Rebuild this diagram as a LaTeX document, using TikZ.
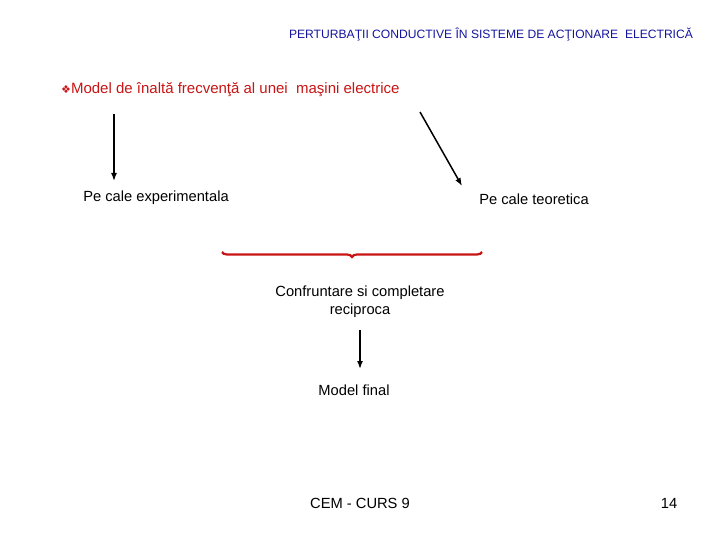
\documentclass[tikz,border=0pt]{standalone}
\usepackage{fontspec}
\setmainfont{Liberation Sans}
\newfontfamily\dejavu{DejaVu Sans}
\usetikzlibrary{decorations.pathreplacing,arrows.meta}
\definecolor{tblue}{RGB}{20,20,160}
\definecolor{tred}{RGB}{200,20,20}
\begin{document}
\begin{tikzpicture}[x=1pt,y=-1pt,
  txt/.style={inner sep=0pt,font=\fontsize{14.7}{17}\selectfont},
  arr/.style={-{Latex[length=8pt,width=6pt]},line width=1.5pt}]
\useasboundingbox (0,0) rectangle (720,540);
\node[inner sep=0pt,text=tblue,font=\fontsize{12.1}{14}\selectfont] (title) at (491,34) {PERTURBAŢII CONDUCTIVE ÎN SISTEME DE ACŢIONARE \ ELECTRICĂ};
\node[txt,anchor=west,text=tred,font=\fontsize{15}{17}\selectfont] (model) at (61,90) {{\dejavu\fontsize{11}{12}\selectfont ❖}Model de înaltă frecvenţă al unei \ maşini electrice};
\node[txt] (exp) at (156,198) {Pe cale experimentala};
\node[txt] (teo) at (534,199) {Pe cale teoretica};
\coordinate (a1s) at (114,114); \coordinate (a1e) at (114,181);
\coordinate (a2s) at (420,112); \coordinate (a2e) at (462,186);
\draw[arr] (a1s) -- (a1e);
\draw[arr] (a2s) -- (a2e);
\coordinate (bl) at (222,252); \coordinate (br) at (482,252);
\draw[tred,line width=2.2pt,decorate,decoration={brace,amplitude=5pt}] (br) -- (bl);
\node[txt,align=center] (conf) at (360,302) {Confruntare si completare\\[1pt]reciproca};
\draw[arr] (360,330) -- (360,369);
\node[txt] (final) at (354,390) {Model final};
\node[txt] (cem) at (360,503) {CEM - CURS 9};
\node[txt] (pg) at (669,503) {14};
\end{tikzpicture}
\end{document}
